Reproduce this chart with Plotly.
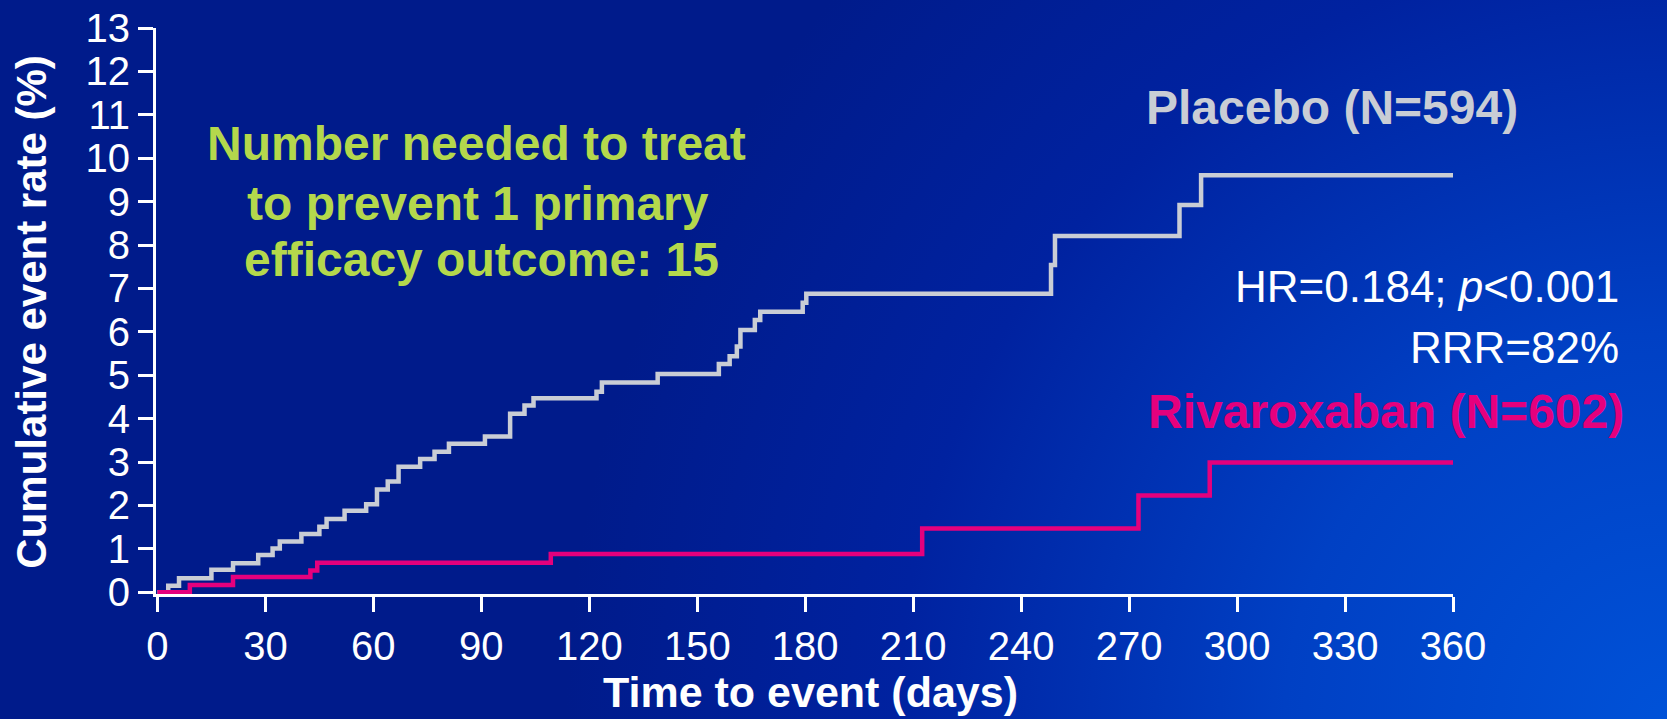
import base64
import plotly.graph_objects as go

# Kaplan-Meier style cumulative event curves (days, %)
placebo_days = [0, 3, 6, 15, 21, 28, 32, 34, 40, 45, 47, 52, 58, 61, 64, 67, 73, 77, 81, 91,
                98, 102, 104.5, 122, 123.5, 139, 156, 159, 161, 162, 166, 167.5, 179.3, 180.3,
                248.3, 249.4, 284, 290, 360]
placebo_rate = [0, 0.15, 0.32, 0.52, 0.67, 0.86, 1.01, 1.17, 1.34, 1.51, 1.69, 1.88, 2.03, 2.37,
                2.55, 2.89, 3.07, 3.24, 3.42, 3.59, 4.11, 4.30, 4.47, 4.62, 4.83, 5.03, 5.26, 5.44,
                5.66, 6.04, 6.27, 6.46, 6.67, 6.88, 7.54, 8.21, 8.92, 9.61, 9.61]

rivaroxaban_days = [0, 9, 21, 42.5, 44.4, 109.3, 212.5, 272.6, 292.4, 360]
rivaroxaban_rate = [0, 0.17, 0.35, 0.50, 0.68, 0.88, 1.47, 2.23, 2.99, 2.99]

x_ticks = list(range(0, 361, 30))
y_ticks = list(range(0, 14))

nnt_lines = ["Number needed to treat", "to prevent 1 primary", "efficacy outcome: 15"]

W, H = 1667, 719
M_L, M_R, M_T, M_B = 155.6, 214, 27.5, 124.9
PW, PH = W - M_L - M_R, H - M_T - M_B

FONT = "Liberation Sans, Arial, sans-serif"
GREY = "#C9CDD5"
PINK = "#E5007D"
GREEN = "#B4D84C"


def px(x):
    return (x - M_L) / PW


def py(y):
    return 1 - (y - M_T) / PH


# Blue slide background with a lighter glow towards the lower right
svg = f"""<svg xmlns='http://www.w3.org/2000/svg' width='{W}' height='{H}'>
<defs><radialGradient id='g' cx='{W}' cy='{H}' r='1100' gradientUnits='userSpaceOnUse'>
<stop offset='0' stop-color='#0052D8'/><stop offset='0.35' stop-color='#0040C4'/>
<stop offset='0.7' stop-color='#0022A0'/><stop offset='1' stop-color='#001B8B'/>
</radialGradient></defs><rect width='{W}' height='{H}' fill='#001B8B'/>
<rect width='{W}' height='{H}' fill='url(#g)'/></svg>"""
bg_src = "data:image/svg+xml;base64," + base64.b64encode(svg.encode()).decode()

fig = go.Figure()
fig.add_trace(go.Scatter(x=placebo_days, y=placebo_rate, mode="lines", line_shape="hv",
                         line=dict(color=GREY, width=4.5), showlegend=False, hoverinfo="skip"))
fig.add_trace(go.Scatter(x=rivaroxaban_days, y=rivaroxaban_rate, mode="lines", line_shape="hv",
                         line=dict(color=PINK, width=4.5), showlegend=False, hoverinfo="skip"))

axis_common = dict(showline=True, linecolor="white", linewidth=3, ticks="outside", ticklen=15,
                   tickwidth=3, tickcolor="white", showgrid=False, zeroline=False, automargin=False,
                   tickfont=dict(family=FONT, size=40, color="white"))
fig.update_xaxes(range=[-0.4, 360], tickvals=x_ticks, ticktext=[str(v) for v in x_ticks], **axis_common)
fig.update_yaxes(range=[-0.04, 13], tickvals=y_ticks, ticktext=[str(v) for v in y_ticks], **axis_common)

annotations = [
    dict(text="<b>Time to event (days)</b>", x=px(810), y=py(692), font=dict(size=43, color="white")),
    dict(text="<b>Cumulative event rate (%)</b>", x=px(31), y=py(312), textangle=-90,
         font=dict(size=42, color="white")),
    dict(text="<b>Placebo (N=594)</b>", x=px(1332), y=py(107), font=dict(size=48, color=GREY)),
    dict(text="HR=0.184; <i>p</i><0.001", x=px(1621), y=py(286), xanchor="right",
         font=dict(size=44, color="white")),
    dict(text="RRR=82%", x=px(1621), y=py(347), xanchor="right", font=dict(size=44, color="white")),
    dict(text="<b>Rivaroxaban (N=602)</b>", x=px(1386), y=py(411), font=dict(size=48, color=PINK)),
]
for line, cx, cy in zip(nnt_lines, [476, 478, 481], [143.5, 203.5, 259.5]):
    annotations.append(dict(text=f"<b>{line}</b>", x=px(cx), y=py(cy), font=dict(size=48, color=GREEN)))

for a in annotations:
    a.setdefault("xanchor", "center")
    a.update(xref="paper", yref="paper", yanchor="middle", showarrow=False)
    a["font"]["family"] = FONT

fig.update_layout(
    width=W, height=H,
    margin=dict(l=M_L, r=M_R, t=M_T, b=M_B, pad=0),
    paper_bgcolor="#001B8B", plot_bgcolor="rgba(0,0,0,0)",
    annotations=annotations,
    images=[dict(source=bg_src, xref="paper", yref="paper", x=-(M_L + 5) / PW, y=1 + (M_T + 5) / PH,
                 sizex=(W + 10) / PW, sizey=(H + 10) / PH, xanchor="left", yanchor="top",
                 sizing="stretch", layer="below")],
)

fig.write_html("out.html", config={"displayModeBar": False})
